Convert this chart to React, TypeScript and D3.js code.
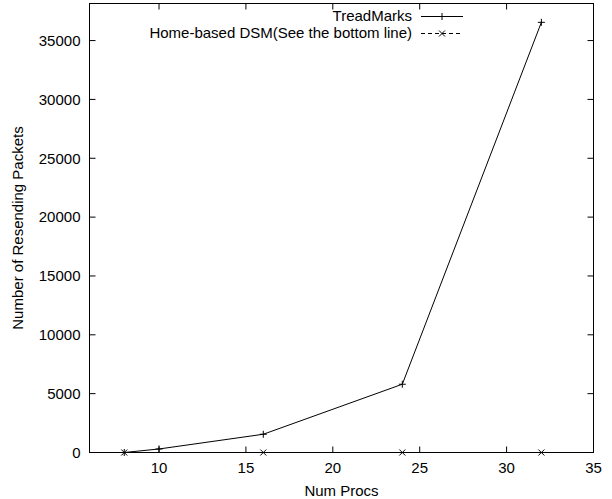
import * as d3 from "d3";
import { useRef, useEffect } from "react";

// data
const procs = [8, 10, 16, 24, 32];
const treadMarks = [0, 300, 1550, 5800, 36550];
const homeProcs = [8, 16, 24, 32];
const homeBased = [0, 0, 0, 0];
const xTicks = [10, 15, 20, 25, 30, 35];
const yTicks = [0, 5000, 10000, 15000, 20000, 25000, 30000, 35000];

const width = 612;
const height = 499;
const left = 89.5;
const right = 593.5;
const top = 3.5;
const bottom = 452.5;
const font = "'Liberation Sans', Arial, Helvetica, sans-serif";

const App = () => {
  const ref = useRef<SVGSVGElement>(null);

  useEffect(() => {
    if (!ref.current) return;
    const svg = d3.select(ref.current);
    svg.selectAll("*").remove();

    const x = d3.scaleLinear().domain([6, 35]).range([left, right]);
    const y = d3.scaleLinear().domain([0, 38150]).range([bottom, top]);

    const g = svg.append("g").attr("font-family", font).attr("font-size", 15);

    // ticks on all four sides, pointing in
    const tl = 6;
    xTicks.forEach((t) => {
      g.append("line").attr("x1", x(t)).attr("x2", x(t)).attr("y1", bottom).attr("y2", bottom - tl).attr("stroke", "#000");
      g.append("line").attr("x1", x(t)).attr("x2", x(t)).attr("y1", top).attr("y2", top + tl).attr("stroke", "#000");
      g.append("text").attr("x", x(t)).attr("y", bottom + 20).attr("text-anchor", "middle").text(t);
    });
    yTicks.forEach((t) => {
      g.append("line").attr("x1", left).attr("x2", left + tl).attr("y1", y(t)).attr("y2", y(t)).attr("stroke", "#000");
      g.append("line").attr("x1", right).attr("x2", right - tl).attr("y1", y(t)).attr("y2", y(t)).attr("stroke", "#000");
      g.append("text").attr("x", left - 9).attr("y", y(t)).attr("dy", "0.35em").attr("text-anchor", "end").text(t);
    });

    // frame
    g.append("rect")
      .attr("x", left).attr("y", top)
      .attr("width", right - left).attr("height", bottom - top)
      .attr("fill", "none").attr("stroke", "#000");

    // axis titles
    g.append("text").attr("x", (left + right) / 2).attr("y", 496).attr("text-anchor", "middle").text("Num Procs");
    g.append("text")
      .attr("transform", `translate(23,${(top + bottom) / 2}) rotate(-90)`)
      .attr("text-anchor", "middle")
      .text("Number of Resending Packets");

    const plus = (px: number, py: number, s = 3.5) =>
      `M${px - s},${py}H${px + s}M${px},${py - s}V${py + s}`;
    const cross = (px: number, py: number, s = 3) =>
      `M${px - s},${py - s}L${px + s},${py + s}M${px - s},${py + s}L${px + s},${py - s}`;

    // TreadMarks
    const tmLine = d3.line<number>().x((_, i) => x(procs[i])).y((d) => y(d));
    g.append("path").attr("d", tmLine(treadMarks)).attr("fill", "none").attr("stroke", "#000");
    treadMarks.forEach((d, i) => {
      g.append("path").attr("d", plus(x(procs[i]), y(d))).attr("stroke", "#000");
    });

    // Home-based DSM
    const hbLine = d3.line<number>().x((_, i) => x(homeProcs[i])).y((d) => y(d));
    g.append("path").attr("d", hbLine(homeBased)).attr("fill", "none").attr("stroke", "#000").attr("stroke-dasharray", "4,3");
    homeBased.forEach((d, i) => {
      g.append("path").attr("d", cross(x(homeProcs[i]), y(d))).attr("stroke", "#000");
    });

    // legend
    const lx1 = 421, lx2 = 463, lm = 442;
    g.append("text").attr("x", 412).attr("y", 16).attr("dy", "0.35em").attr("text-anchor", "end").text("TreadMarks");
    g.append("line").attr("x1", lx1).attr("x2", lx2).attr("y1", 16.5).attr("y2", 16.5).attr("stroke", "#000");
    g.append("path").attr("d", plus(lm, 16.5)).attr("stroke", "#000");
    g.append("text").attr("x", 412).attr("y", 33).attr("dy", "0.35em").attr("text-anchor", "end").text("Home-based DSM(See the bottom line)");
    g.append("line").attr("x1", lx1).attr("x2", lx2).attr("y1", 33.5).attr("y2", 33.5).attr("stroke", "#000").attr("stroke-dasharray", "4,3");
    g.append("path").attr("d", cross(lm, 33.5)).attr("stroke", "#000");
  }, []);

  return (
    <svg
      ref={ref}
      width={width}
      height={height}
      style={{ position: "absolute", left: 0, top: 0, background: "#fff" }}
    />
  );
};

export default App;
